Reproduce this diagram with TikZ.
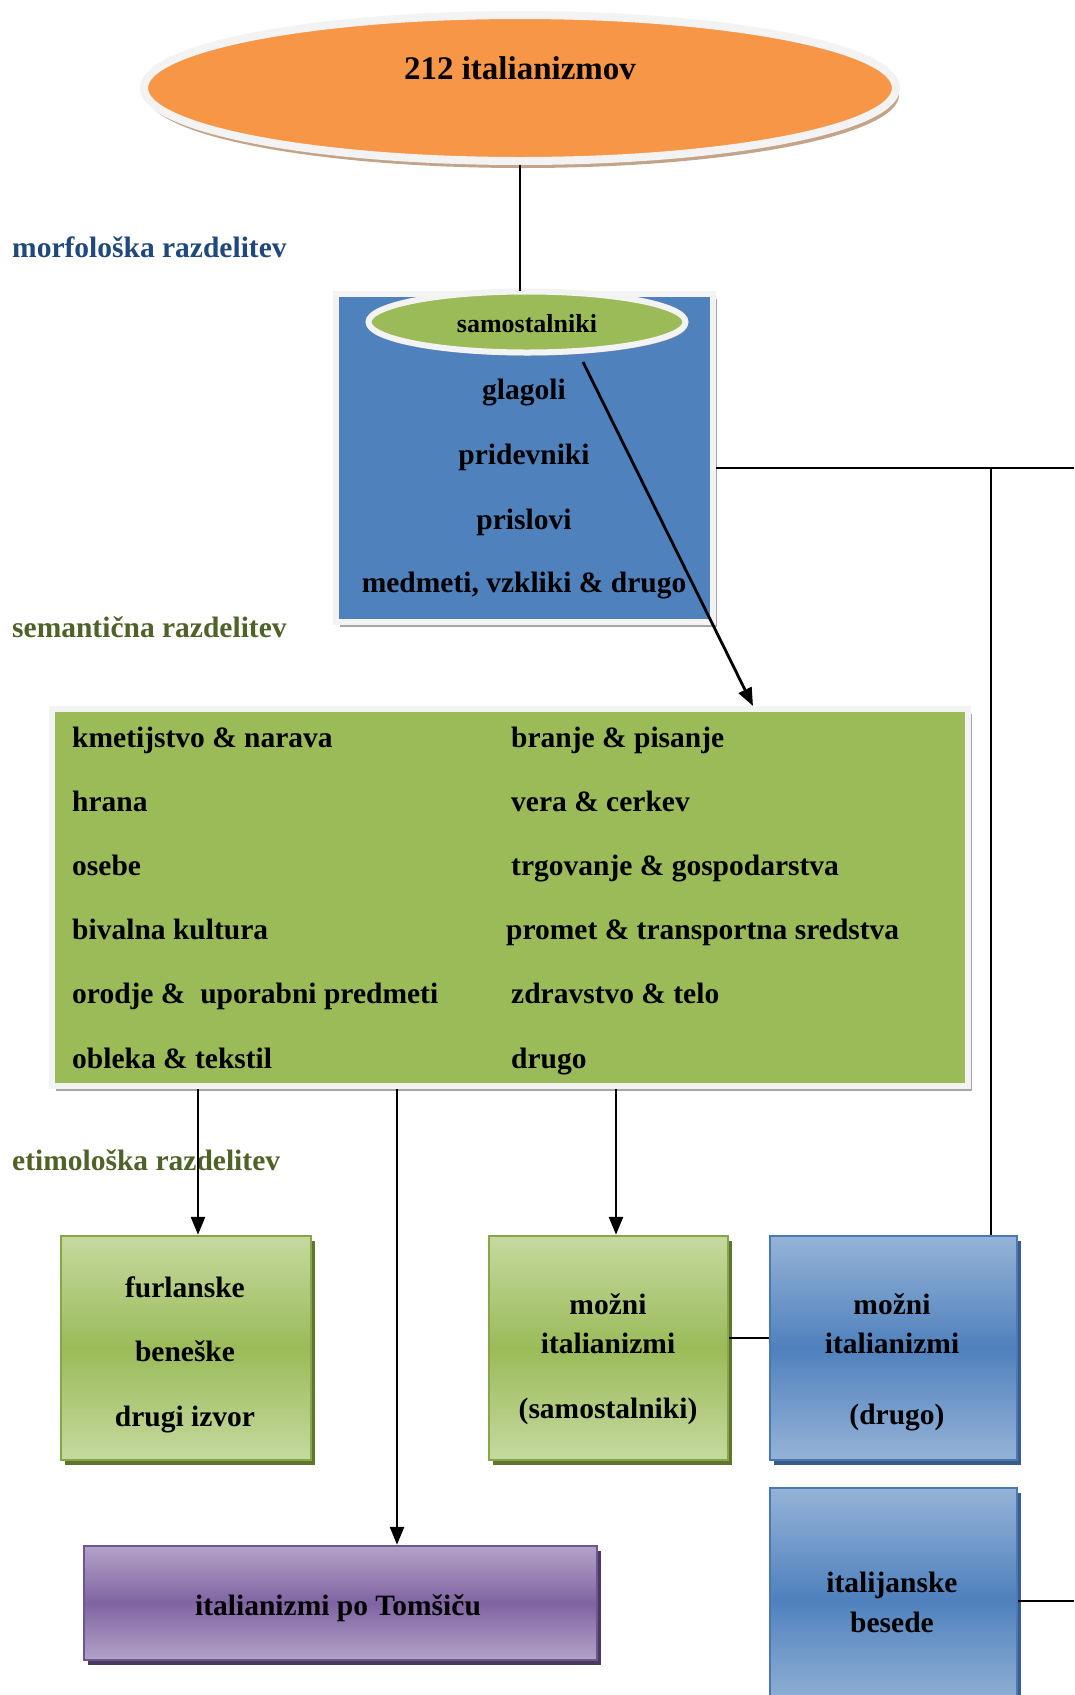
\documentclass[tikz,border=0pt]{standalone}
\usepackage{fontspec}
\setmainfont{Liberation Serif}
\usetikzlibrary{shapes.geometric,shadows,arrows.meta}
\definecolor{orangeF}{HTML}{F79646}
\definecolor{orangeS}{HTML}{C4A488}
\definecolor{blueF}{HTML}{4F81BD}
\definecolor{greenF}{HTML}{9BBB59}
\definecolor{greenL}{HTML}{C5D99F}
\definecolor{blueL}{HTML}{95B3D7}
\definecolor{purpleF}{HTML}{8064A2}
\definecolor{purpleL}{HTML}{B3A2C7}
\definecolor{rimC}{HTML}{F3F3F3}
\definecolor{labBlue}{HTML}{1F497D}
\definecolor{labOlive}{HTML}{4F6228}
\definecolor{greenD}{HTML}{86A64A}
\definecolor{greenS}{HTML}{5E7530}
\definecolor{blueD}{HTML}{4A78B4}
\definecolor{blueS}{HTML}{385D8A}
\definecolor{purpleD}{HTML}{6E5690}
\definecolor{purpleS}{HTML}{4A3A60}
\definecolor{shadeG}{HTML}{A5A5A5}
\begin{document}
\begin{tikzpicture}[x=1pt,y=-1pt,
  txt/.style={font=\bfseries\fontsize{29.5}{31}\selectfont, inner sep=0pt, text height=20pt, text depth=7pt, yshift=-3.5pt},
  lab/.style={txt, anchor=west},
  conn/.style={line width=2.8pt},
  arr/.style={conn,-{Triangle[length=18pt,width=14pt]}},
  rimbox/.style={rectangle, draw=rimC, line width=6pt, inner sep=0pt,
    drop shadow={shadow xshift=4pt,shadow yshift=-5pt,fill=shadeG,opacity=1}},
  gbox/.style={rectangle, draw=greenD, line width=2.5pt, inner sep=0pt,
    top color=greenL, bottom color=greenL, middle color=greenF,
    drop shadow={shadow xshift=4pt,shadow yshift=-5pt,fill=greenS,opacity=1}},
  bbox/.style={rectangle, draw=blueD, line width=2.5pt, inner sep=0pt,
    top color=blueL, bottom color=blueL, middle color=blueF,
    drop shadow={shadow xshift=4pt,shadow yshift=-5pt,fill=blueS,opacity=1}},
  pbox/.style={rectangle, draw=purpleD, line width=2.5pt, inner sep=0pt,
    top color=purpleL, bottom color=purpleL, middle color=purpleF,
    drop shadow={shadow xshift=4pt,shadow yshift=-5pt,fill=purpleS,opacity=1}}
]
\useasboundingbox[fill=white] (0,0) rectangle (1074,1695);

% top ellipse
\node[ellipse, fill=orangeF, draw=rimC, line width=8pt, minimum width=752pt, minimum height=146pt, inner sep=0pt,
  drop shadow={shadow xshift=3pt,shadow yshift=-7pt,fill=orangeS,opacity=1}] (top) at (520,88) {};
\node[txt, font=\bfseries\fontsize{33}{35}\selectfont] (toptext) at (520,69) {212 italianizmov};

% labels
\node[lab, text=labBlue] (lmorf) at (12,247) {morfološka razdelitev};
\node[lab, text=labOlive] (lsem) at (12,627) {semantična razdelitev};
\node[lab, text=labOlive] (lety) at (12,1160) {etimološka razdelitev};

% morphological box
\node[rimbox, fill=blueF, minimum width=377pt, minimum height=328pt] (blue) at (524.5,458) {};
\node[ellipse, fill=greenF, draw=rimC, line width=6pt, minimum width=317pt, minimum height=61pt, inner sep=0pt,
  drop shadow={shadow xshift=2pt,shadow yshift=-3pt,fill=shadeG,opacity=1}] (sam) at (527,322) {};
\node[txt, font=\bfseries\fontsize{26}{28}\selectfont] (samt) at (527,322) {samostalniki};
\node[txt] (b1) at (524,389) {glagoli};
\node[txt] (b2) at (524,454) {pridevniki};
\node[txt] (b3) at (524,519) {prislovi};
\node[txt] (b4) at (524,582) {medmeti, vzkliki \& drugo};

% semantic box
\node[rimbox, fill=greenF, minimum width=916pt, minimum height=377pt] (sem) at (509.5,897.5) {};
\node[lab] (s1) at (72,737) {kmetijstvo \& narava};
\node[lab] (s2) at (72,801) {hrana};
\node[lab] (s3) at (72,865) {osebe};
\node[lab] (s4) at (72,929) {bivalna kultura};
\node[lab] (s5) at (72,993) {orodje \&\ \ uporabni predmeti};
\node[lab] (s6) at (72,1058) {obleka \& tekstil};
\node[lab] (r1) at (511,737) {branje \& pisanje};
\node[lab] (r2) at (511,801) {vera \& cerkev};
\node[lab] (r3) at (511,865) {trgovanje \& gospodarstva};
\node[lab] (r4) at (506,929) {promet \& transportna sredstva};
\node[lab] (r5) at (511,993) {zdravstvo \& telo};
\node[lab] (r6) at (511,1058) {drugo};

% etymological boxes
\node[gbox, minimum width=250pt, minimum height=224pt] (fur) at (186,1348) {};
\node[txt] (f1) at (185,1287) {furlanske};
\node[txt] (f2) at (185,1351) {beneške};
\node[txt] (f3) at (185,1416) {drugi izvor};

\node[gbox, minimum width=239pt, minimum height=224pt] (mozS) at (608.5,1348) {};
\node[txt] (m1) at (608,1304) {možni};
\node[txt] (m2) at (608,1343) {italianizmi};
\node[txt] (m3) at (608,1408) {(samostalniki)};

\node[bbox, minimum width=247pt, minimum height=224pt] (mozD) at (893.5,1348) {};
\node[txt] (d1) at (892,1304) {možni};
\node[txt] (d2) at (892,1343) {italianizmi};
\node[txt] (d3) at (897,1414) {(drugo)};

\node[pbox, minimum width=513pt, minimum height=114pt] (tom) at (340.5,1603) {};
\node[txt] (tomt) at (338,1605) {italianizmi po Tomšiču};

\node[bbox, minimum width=247pt, minimum height=222pt] (ita) at (893.5,1599) {};
\node[txt] (i1) at (892,1582) {italijanske};
\node[txt] (i2) at (892,1622) {besede};

% connector coordinates
\coordinate (h1) at (1074,468);
\coordinate (v1) at (991,468);
\coordinate (h2) at (1074,1601);
\coordinate (mline) at (0,1338);
\coordinate (x1) at (198,0);
\coordinate (x2) at (397,0);
\coordinate (x3) at (616,0);
\coordinate (arrS) at (583,362);
\coordinate (arrE) at (753,0);

% connectors
\draw[conn] (top.south) -- (blue.north -| top.south);
\draw[arr] (arrS) -- (sem.north -| arrE);
\draw[conn] (blue.east |- h1) -- (h1);
\draw[conn] (v1) -- (mozD.north -| v1);
\draw[arr] (sem.south -| x1) -- (fur.north -| x1);
\draw[arr] (sem.south -| x2) -- (tom.north -| x2);
\draw[arr] (sem.south -| x3) -- (mozS.north -| x3);
\draw[conn] (mozS.east |- mline) -- (mozD.west |- mline);
\draw[conn] (ita.east |- h2) -- (h2);
\end{tikzpicture}
\end{document}
